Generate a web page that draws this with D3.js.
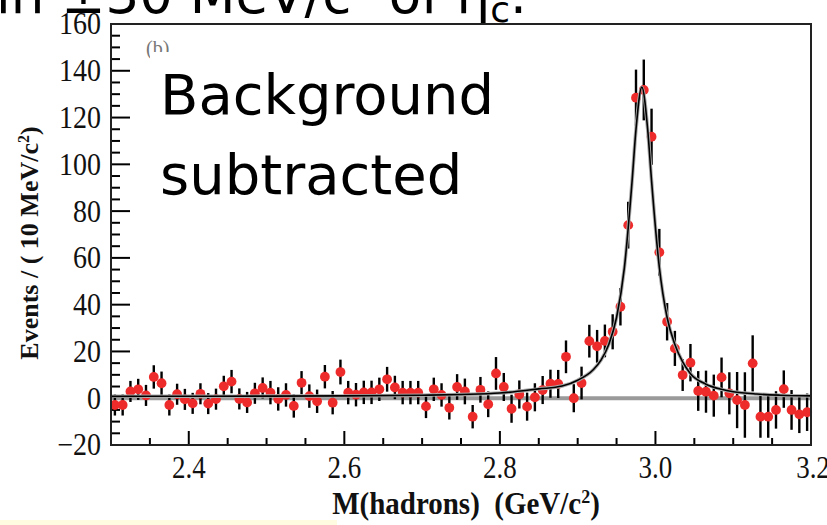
<!DOCTYPE html>
<html>
<head>
<meta charset="utf-8">
<script src="https://cdn.jsdelivr.net/npm/d3@7"></script>
<style>
  html, body { margin: 0; padding: 0; background: #fff; }
  svg { display: block; }
</style>
</head>
<body>
<svg id="chart" width="827" height="525"></svg>
<script>
// Invariant mass bins (GeV/c^2): 90 bins of 10 MeV from 2.30 to 3.20, given by their centres
const massBins = d3.range(90).map(i => +(2.305 + i * 0.01).toFixed(3));

// Background-subtracted event counts per bin
const counts = [
  -2.9, -2.9, 2.9, 3.8, 1.2, 9.1, 6.4, -2.9, 1.7, -0.5,
  -2.2, 1.9, -2.3, -0.4, 5.1, 7.1, -0.3, -1.8, 2.1, 4.4,
  2.4, -0.3, 1.4, -3.3, 6.6, 0.9, -1.3, 9.2, -1.9, 11.2,
  2.4, 1.5, 2.5, 2.5, 3.8, 8.1, 4.6, 2.4, 2.4, 2.4,
  -3.5, 3.8, 1.4, -4.1, 4.8, 2.9, -7.9, 3.6, -2.6, 10.6,
  4.8, -4.5, 1.6, -3.6, 0.4, 3.5, 6.2, 6.1, 17.7, 0.0,
  6.5, 24.4, 22.2, 24.5, 28.4, 39.1, 74.0, 128.5, 131.8, 111.8,
  62.4, 32.7, 21.3, 9.9, 15.2, 3.1, 2.8, 1.1, 8.9, 2.1,
  -0.8, -2.9, 14.9, -7.9, -7.9, -5.0, 3.9, -5.0, -6.9, -6.0
];

// Statistical uncertainty per bin
const errors = [
  4.5, 4.5, 4.5, 4.5, 4.5, 5, 5, 4.5, 4.5, 4.5,
  4.5, 4.5, 4.5, 4.5, 4.5, 5, 4.5, 4.5, 4.5, 4.5,
  5, 5, 5, 5, 5, 5, 5, 5, 5, 5.3,
  5, 5, 5, 5, 5, 5.3, 5, 5, 5, 5,
  5, 5, 5, 5, 5.5, 5.5, 5, 5.5, 5.5, 7,
  6, 6, 6, 6, 6, 6, 6, 6, 7, 6,
  7, 7, 7, 7, 7.5, 8, 10, 12, 13, 12,
  10, 8, 7.5, 6.8, 8, 8.5, 9, 9, 8.5, 9,
  12, 14, 12, 9, 9, 8, 8, 8.5, 8, 8
];

// Fitted line shape (signal peak on a flat background), sampled along the mass axis
const fitMass = [2.30, 2.40, 2.50, 2.60, 2.70, 2.75, 2.80, 2.85, 2.88, 2.90,
                 2.92, 2.93, 2.94, 2.95, 2.96, 2.97, 2.975, 2.9825, 2.99, 2.995,
                 3.005, 3.015, 3.025, 3.035, 3.045, 3.065, 3.085, 3.10, 3.13, 3.16, 3.20];
const fitValue = [0.8, 0.85, 0.9, 1.0, 1.3, 1.6, 2.2, 4.0, 5.2, 7.7,
                  12.2, 16.3, 23.0, 34.5, 55.6, 93.0, 115.0, 133.0, 115.0, 93.0,
                  56.0, 34.5, 23.0, 15.5, 10.5, 6.0, 3.8, 2.8, 1.8, 1.3, 1.0];

// Axis ticks and titles
const xTickValues = [2.4, 2.6, 2.8, 3.0, 3.2];
const yTickValues = [-20, 0, 20, 40, 60, 80, 100, 120, 140, 160];

const svg = d3.select("#chart");
const plot = { left: 111, right: 811, top: 24, bottom: 445 };

const x = d3.scaleLinear().domain([2.3, 3.2]).range([plot.left, plot.right]);
const y = d3.scaleLinear().domain([-20, 160]).range([plot.bottom, plot.top]);

const serif = "'Liberation Serif', 'DejaVu Serif', serif";
const handFont = "'DejaVu Sans', 'Noto Sans', sans-serif";

// Pale strip along the bottom edge of the slide
svg.append("rect").attr("x", 0).attr("y", 520).attr("width", 337).attr("height", 5)
  .attr("fill", "#fffbe0");

// Slide heading, running off the top edge
const head = svg.append("text")
  .attr("x", -4).attr("y", 13)
  .attr("font-family", handFont).attr("font-size", 53).attr("fill", "#000");
head.append("tspan").text("in ±30 MeV/c");
head.append("tspan").attr("dy", -21).attr("font-size", 32).text("2");
head.append("tspan").attr("dy", 21).text(" of η");
head.append("tspan").attr("dy", 9).attr("font-size", 36).text("c");
head.append("tspan").attr("dy", -9).text(".");

// Minor ticks (y every 5, x every 0.05), drawn inward from the frame
const yMinor = d3.range(-20, 161, 5);
const xMinor = d3.range(0, 19).map(i => +(2.3 + i * 0.05).toFixed(2));

const ticks = svg.append("g").attr("stroke", "#000").attr("stroke-width", 2);
ticks.selectAll(".ym").data(yMinor).join("line")
  .attr("x1", plot.left).attr("x2", d => plot.left + (d % 20 === 0 ? 19 : 9))
  .attr("y1", d => y(d)).attr("y2", d => y(d));
ticks.selectAll(".xm").data(xMinor).join("line")
  .attr("y1", plot.bottom)
  .attr("y2", d => plot.bottom - (xTickValues.some(v => Math.abs(v - d) < 1e-6) ? 14 : 7))
  .attr("x1", d => x(d)).attr("x2", d => x(d));

// Zero line
svg.append("line")
  .attr("x1", plot.left).attr("x2", plot.right)
  .attr("y1", y(0)).attr("y2", y(0))
  .attr("stroke", "#9a9a9a").attr("stroke-width", 4);

// Error bars
svg.append("g").selectAll("line").data(massBins).join("line")
  .attr("x1", d => x(d)).attr("x2", d => x(d))
  .attr("y1", (d, i) => y(counts[i] + errors[i]))
  .attr("y2", (d, i) => y(counts[i] - errors[i]))
  .attr("stroke", "#000").attr("stroke-width", 2.4);

// Data points
svg.append("g").selectAll("circle").data(massBins).join("circle")
  .attr("cx", d => x(d)).attr("cy", (d, i) => y(counts[i]))
  .attr("r", 4.9).attr("fill", "#ee2b2b");

// Fit curve
const fitLine = d3.line()
  .x((d, i) => x(fitMass[i])).y(d => y(d))
  .curve(d3.curveMonotoneX);
svg.append("path").datum(fitValue).attr("d", fitLine)
  .attr("fill", "none").attr("stroke", "#aaa").attr("stroke-width", 3.5);
svg.append("path").datum(fitValue).attr("d", fitLine)
  .attr("fill", "none").attr("stroke", "#000").attr("stroke-width", 1.6);

// Frame
svg.append("rect")
  .attr("x", plot.left).attr("y", plot.top)
  .attr("width", plot.right - plot.left).attr("height", plot.bottom - plot.top)
  .attr("fill", "none").attr("stroke", "#222").attr("stroke-width", 2);

// Tick labels
svg.append("g").selectAll("text").data(yTickValues).join("text")
  .attr("transform", d => `translate(101,${y(d)}) scale(1,1.1)`)
  .attr("text-anchor", "end").attr("dy", "0.34em")
  .attr("font-family", serif).attr("font-size", 28).attr("fill", "#111")
  .text(d => d3.format("d")(d));

svg.append("g").selectAll("text").data(xTickValues).join("text")
  .attr("transform", d => `translate(${d === 3.2 ? x(d) + 2 : x(d)},478) scale(1,1.15)`)
  .attr("text-anchor", "middle")
  .attr("font-family", serif).attr("font-size", 27).attr("fill", "#111")
  .text(d => d3.format(".1f")(d));

// Axis titles
const xt = svg.append("text")
  .attr("transform", "translate(466,514) scale(1,1.1)")
  .attr("text-anchor", "middle")
  .attr("font-family", serif).attr("font-weight", "bold").attr("font-size", 29).attr("fill", "#111");
xt.append("tspan").text("M(hadrons)\u00a0\u00a0(GeV/c");
xt.append("tspan").attr("dy", -10).attr("font-size", 18).text("2");
xt.append("tspan").attr("dy", 10).text(")");

const yt = svg.append("text")
  .attr("transform", "translate(38,243) rotate(-90)")
  .attr("text-anchor", "middle")
  .attr("font-family", serif).attr("font-weight", "bold").attr("font-size", 26).attr("fill", "#111");
yt.append("tspan").text("Events / ( 10 MeV/c");
yt.append("tspan").attr("dy", -9).attr("font-size", 16).text("2");
yt.append("tspan").attr("dy", 9).text(")");

// Panel label, partly hidden under the annotation box
svg.append("text").attr("x", 146).attr("y", 55)
  .attr("font-family", serif).attr("font-size", 20).attr("fill", "#777").text("(b)");
svg.append("rect").attr("x", 150).attr("y", 52).attr("width", 350).attr("height", 150)
  .attr("fill", "#fff");

// Annotation
const note = svg.append("text")
  .attr("font-family", handFont).attr("font-size", 56).attr("fill", "#000");
note.append("tspan").attr("x", 160).attr("y", 114).text("Background");
note.append("tspan").attr("x", 160).attr("y", 194).text("subtracted");
</script>
</body>
</html>
